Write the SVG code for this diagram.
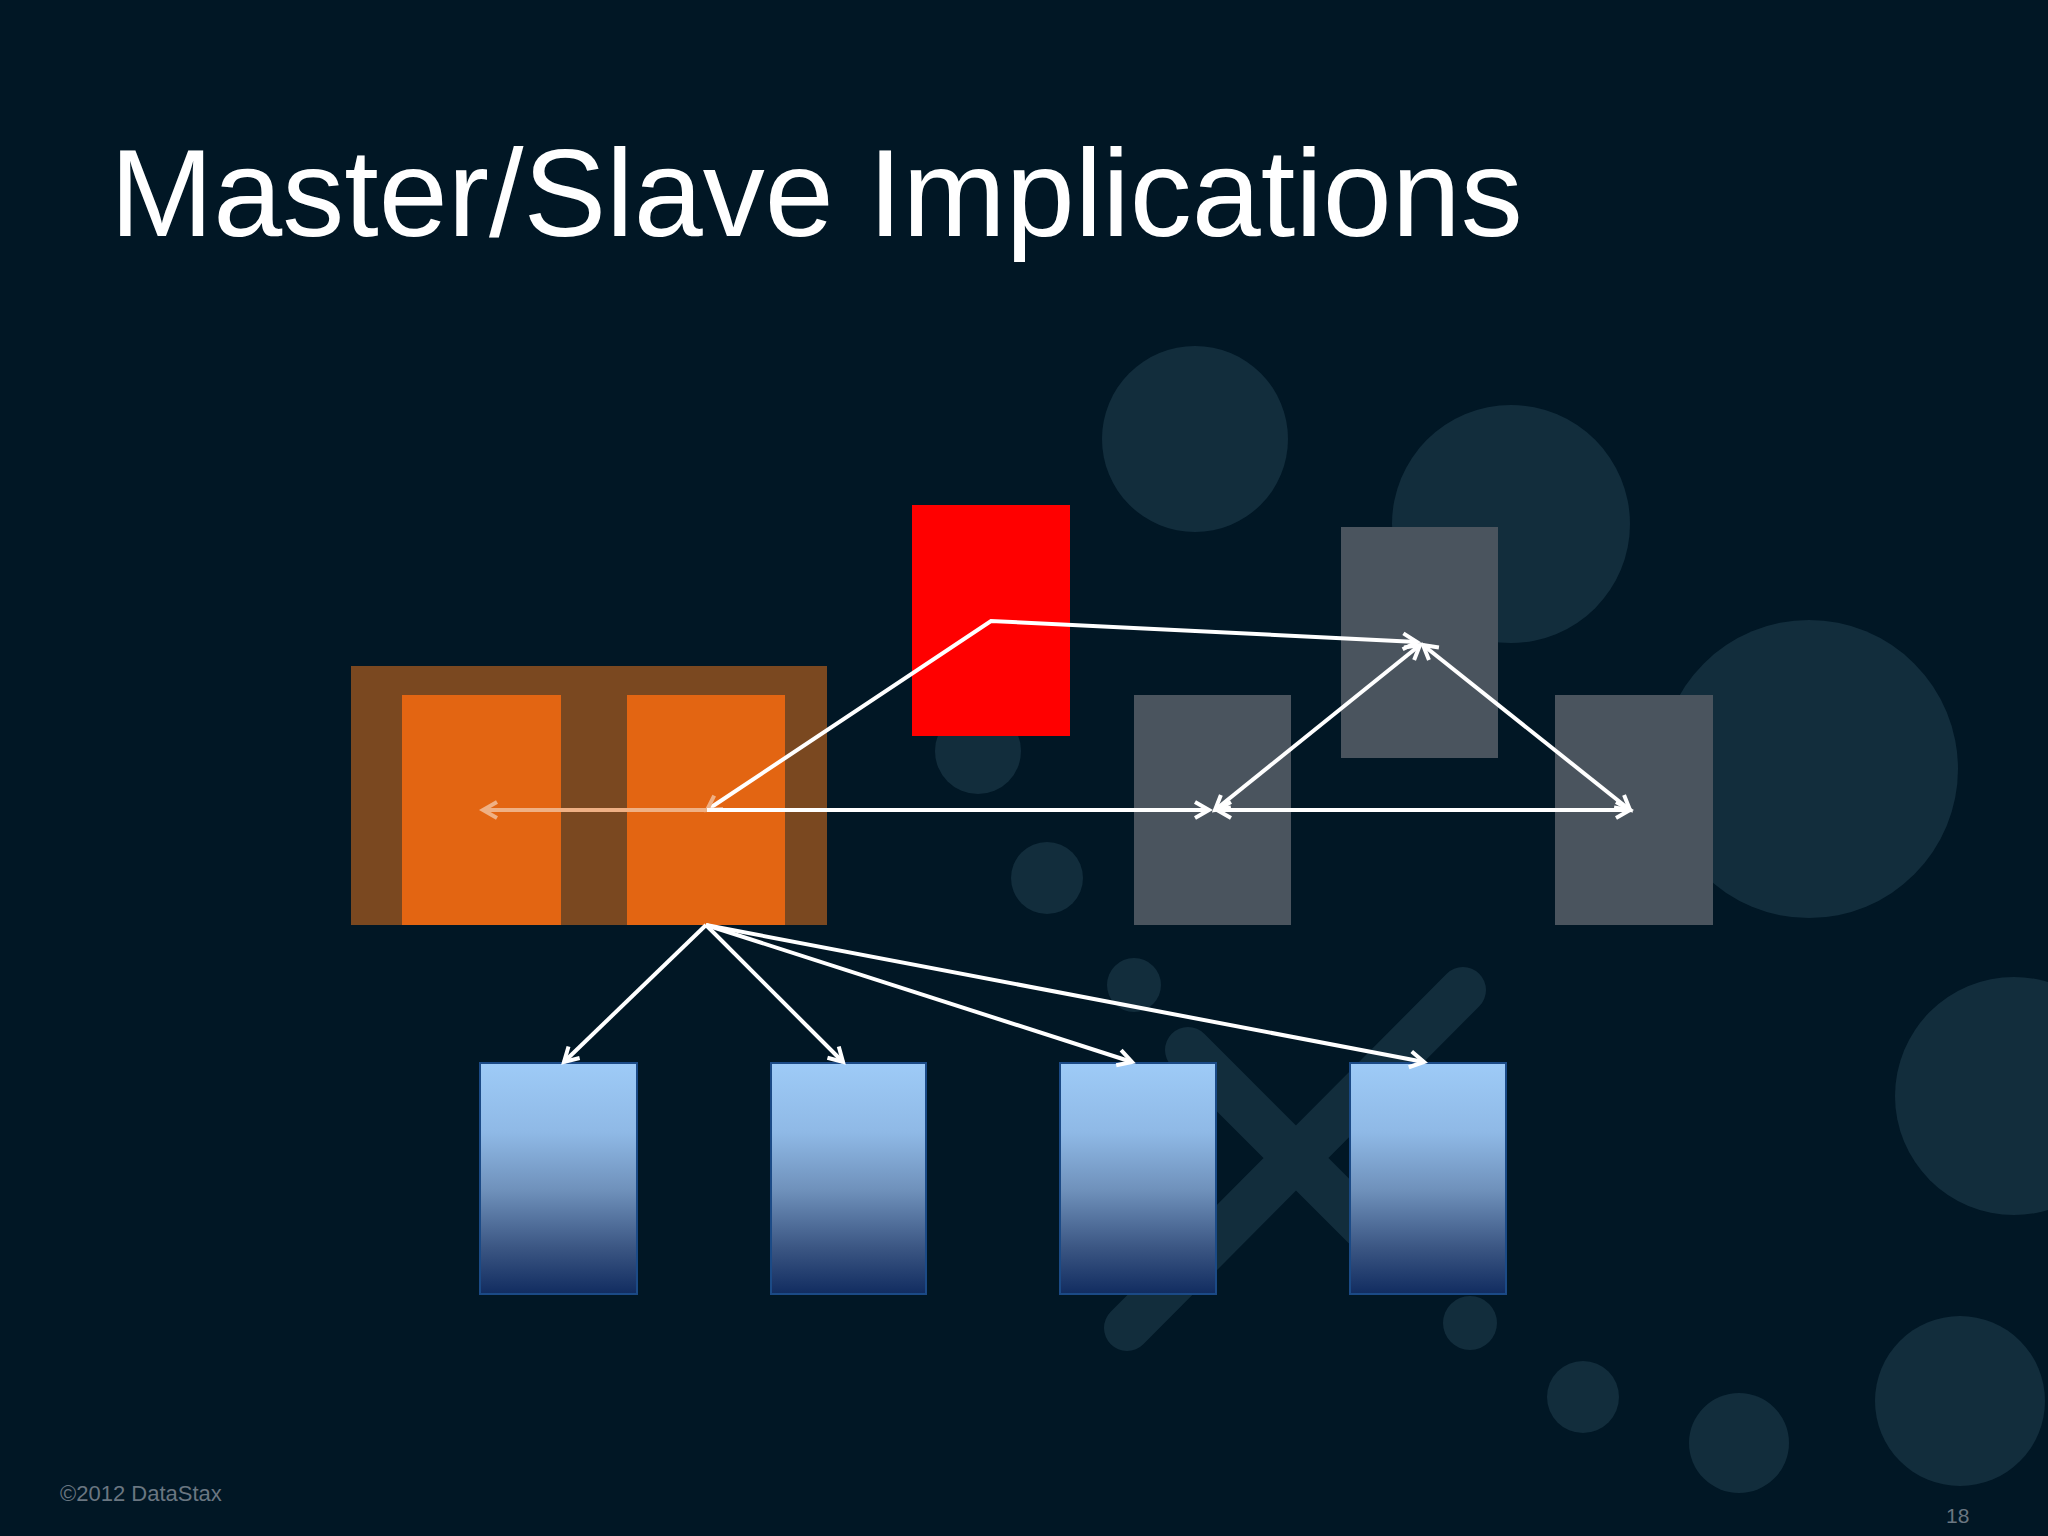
<svg xmlns="http://www.w3.org/2000/svg" width="2048" height="1536" viewBox="0 0 2048 1536">
  <style>
    .bgc { fill: #122d3c; }
    .gray { fill: #4a545e; }
    .blue { fill: url(#blueGrad); stroke: #1b4a86; stroke-width: 2; }
    .conn { fill: none; stroke: #ffffff; stroke-width: 4; stroke-linejoin: miter; }
    .peach { stroke: #efb084; }
    .title { font-family: "Liberation Sans", Arial, sans-serif; font-size: 124px; fill: #ffffff; }
    .foot { font-family: "Liberation Sans", Arial, sans-serif; fill: #6a7681; }
  </style>
  <defs>
    <linearGradient id="blueGrad" x1="0" y1="0" x2="0" y2="1">
      <stop offset="0" stop-color="#9ecbf7"/>
      <stop offset="0.3" stop-color="#8fb9e6"/>
      <stop offset="0.55" stop-color="#6f91bb"/>
      <stop offset="0.8" stop-color="#3b5683"/>
      <stop offset="1" stop-color="#112c60"/>
    </linearGradient>
    <linearGradient id="diagGrad" gradientUnits="userSpaceOnUse" x1="707" y1="0" x2="991" y2="0">
      <stop offset="0" stop-color="#efb084"/>
      <stop offset="0.4225" stop-color="#efb084"/>
      <stop offset="0.4225" stop-color="#ffffff"/>
      <stop offset="1" stop-color="#ffffff"/>
    </linearGradient>
    <marker id="arrW" markerUnits="userSpaceOnUse" viewBox="-18 -11 22 22" refX="0" refY="0" markerWidth="22" markerHeight="22" orient="auto-start-reverse">
      <path d="M-14,-8 L0,0 L-14,8" fill="none" stroke="#ffffff" stroke-width="4"/>
    </marker>
    <marker id="arrP" markerUnits="userSpaceOnUse" viewBox="-18 -11 22 22" refX="0" refY="0" markerWidth="22" markerHeight="22" orient="auto-start-reverse">
      <path d="M-14,-8 L0,0 L-14,8" fill="none" stroke="#efb084" stroke-width="4"/>
    </marker>
  </defs>

  <rect x="0" y="0" width="2048" height="1536" fill="#011725"/>

  <g id="background-decor">
    <circle class="bgc" cx="1195" cy="439" r="93"/>
    <circle class="bgc" cx="1511" cy="524" r="119"/>
    <circle class="bgc" cx="1809" cy="769" r="149"/>
    <circle class="bgc" cx="2014" cy="1096" r="119"/>
    <circle class="bgc" cx="1960" cy="1401" r="85"/>
    <circle class="bgc" cx="1739" cy="1443" r="50"/>
    <circle class="bgc" cx="1583" cy="1397" r="36"/>
    <circle class="bgc" cx="1470" cy="1323" r="27"/>
    <circle class="bgc" cx="1134" cy="985" r="27"/>
    <circle class="bgc" cx="978" cy="751" r="43"/>
    <circle class="bgc" cx="1047" cy="878" r="36"/>
    <path d="M1463,990 L1127,1328 M1188,1050 L1400,1262" fill="none" stroke="#122d3c" stroke-width="46" stroke-linecap="round"/>
  </g>

  <text class="title" x="110" y="236">Master/Slave Implications</text>

  <g id="nodes">
    <g id="master-group">
      <rect x="351" y="666" width="476" height="259" fill="#7a4820"/>
      <rect id="master-a" x="402" y="695" width="159" height="230" fill="#e36512"/>
      <rect id="master-b" x="627" y="695" width="158" height="230" fill="#e36512"/>
    </g>
    <rect id="failed-node" x="912" y="505" width="158" height="231" fill="#ff0000"/>
    <rect id="gray-left" class="gray" x="1134" y="695" width="157" height="230"/>
    <rect id="gray-top" class="gray" x="1341" y="527" width="157" height="231"/>
    <rect id="gray-right" class="gray" x="1555" y="695" width="158" height="230"/>
    <rect id="slave-1" class="blue" x="480" y="1063" width="157" height="231"/>
    <rect id="slave-2" class="blue" x="771" y="1063" width="155" height="231"/>
    <rect id="slave-3" class="blue" x="1060" y="1063" width="156" height="231"/>
    <rect id="slave-4" class="blue" x="1350" y="1063" width="156" height="231"/>
  </g>

  <g id="connectors">
    <path class="conn" d="M707,810 L991,621 L1417,642" stroke="url(#diagGrad)" marker-start="url(#arrP)" marker-end="url(#arrW)"/>
    <path class="conn peach" d="M707,810 L483,810" marker-end="url(#arrP)"/>
    <path class="conn" d="M707,810 L1209,810" marker-end="url(#arrW)"/>
    <path class="conn" d="M1215,810 L1420,645" marker-start="url(#arrW)" marker-end="url(#arrW)"/>
    <path class="conn" d="M1423,645 L1630,810" marker-start="url(#arrW)" marker-end="url(#arrW)"/>
    <path class="conn" d="M1217,810 L1630,810" marker-start="url(#arrW)" marker-end="url(#arrW)"/>
    <path class="conn" d="M706,925 L564,1062" marker-end="url(#arrW)"/>
    <path class="conn" d="M706,925 L843,1062" marker-end="url(#arrW)"/>
    <path class="conn" d="M706,925 L1132,1062" marker-end="url(#arrW)"/>
    <path class="conn" d="M706,925 L1424,1062" marker-end="url(#arrW)"/>
  </g>

  <text class="foot" x="60" y="1501" font-size="22">©2012 DataStax</text>
  <text class="foot" x="1946" y="1523" font-size="21">18</text>
</svg>
